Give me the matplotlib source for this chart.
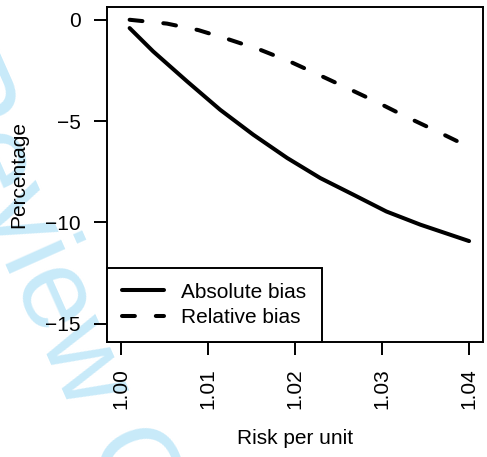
import matplotlib
matplotlib.use("Agg")
import matplotlib.pyplot as plt

plt.rcParams['font.family'] = ['Liberation Sans', 'DejaVu Sans']

# values
risk_abs = [1.001, 1.0037, 1.0076, 1.0114, 1.0152, 1.0191, 1.0229, 1.0267, 1.0305, 1.0344, 1.0400]
abs_bias = [-0.41, -1.56, -3.04, -4.44, -5.67, -6.82, -7.81, -8.63, -9.46, -10.11, -10.92]

risk_rel = [1.001, 1.0053, 1.0089, 1.0124, 1.0160, 1.0194, 1.0227, 1.0260, 1.0294, 1.0326, 1.0360, 1.0393, 1.0400]
rel_bias = [0.0, -0.19, -0.51, -0.97, -1.48, -2.06, -2.71, -3.37, -4.06, -4.75, -5.44, -6.13, -6.24]

xticks = [1.00, 1.01, 1.02, 1.03, 1.04]
xticklabels = ["1.00", "1.01", "1.02", "1.03", "1.04"]
yticks = [0, -5, -10, -15]

W, H = 487, 457
fig = plt.figure(figsize=(W / 100, H / 100), dpi=100)

# faint review watermark behind the plot
fig.text(-80.7 / W, 1 - 69 / H, "Review Only", fontsize=83, color="#c8eaf9",
         rotation=-66, rotation_mode="anchor", ha="left", va="baseline", zorder=-10)

ax = fig.add_axes([107 / W, 1 - 342 / H, 376 / W, 335 / H])
ax.set_facecolor("white")

fs = 15
ax.plot(risk_abs, abs_bias, color="black", lw=2.9, solid_capstyle="round", label="Absolute bias")
ax.plot(risk_rel, rel_bias, color="black", lw=2.9, dashes=(3.2, 5.2), dash_capstyle="round",
        label="Relative bias")

ax.set_xlim(0.9984, 1.0416)
ax.set_ylim(-15.9, 0.63)
ax.set_xticks(xticks)
ax.set_xticklabels(xticklabels, rotation=90)
ax.set_yticks(yticks)
ax.tick_params(length=9.4, width=1.4, pad=9.4, labelsize=fs, direction="out")
for s in ax.spines.values():
    s.set_linewidth(1.4)

ax.set_xlabel("Risk per unit", fontsize=fs)
ax.xaxis.set_label_coords(0.5, -(438 - 342) / 335)
ax.xaxis.label.set_va("center")
ax.set_ylabel("Percentage", fontsize=fs)
ax.yaxis.set_label_coords((19 - 107) / 376, 0.5)
ax.yaxis.label.set_va("center")

leg = ax.legend(loc="lower left", bbox_to_anchor=(0, 0), borderaxespad=0, fontsize=fs,
                fancybox=False, framealpha=1, edgecolor="black", handlelength=2.0,
                handletextpad=0.85, borderpad=0.72, labelspacing=0.3)
leg.get_frame().set_linewidth(1.4)

fig.savefig("out.png", dpi=100)
